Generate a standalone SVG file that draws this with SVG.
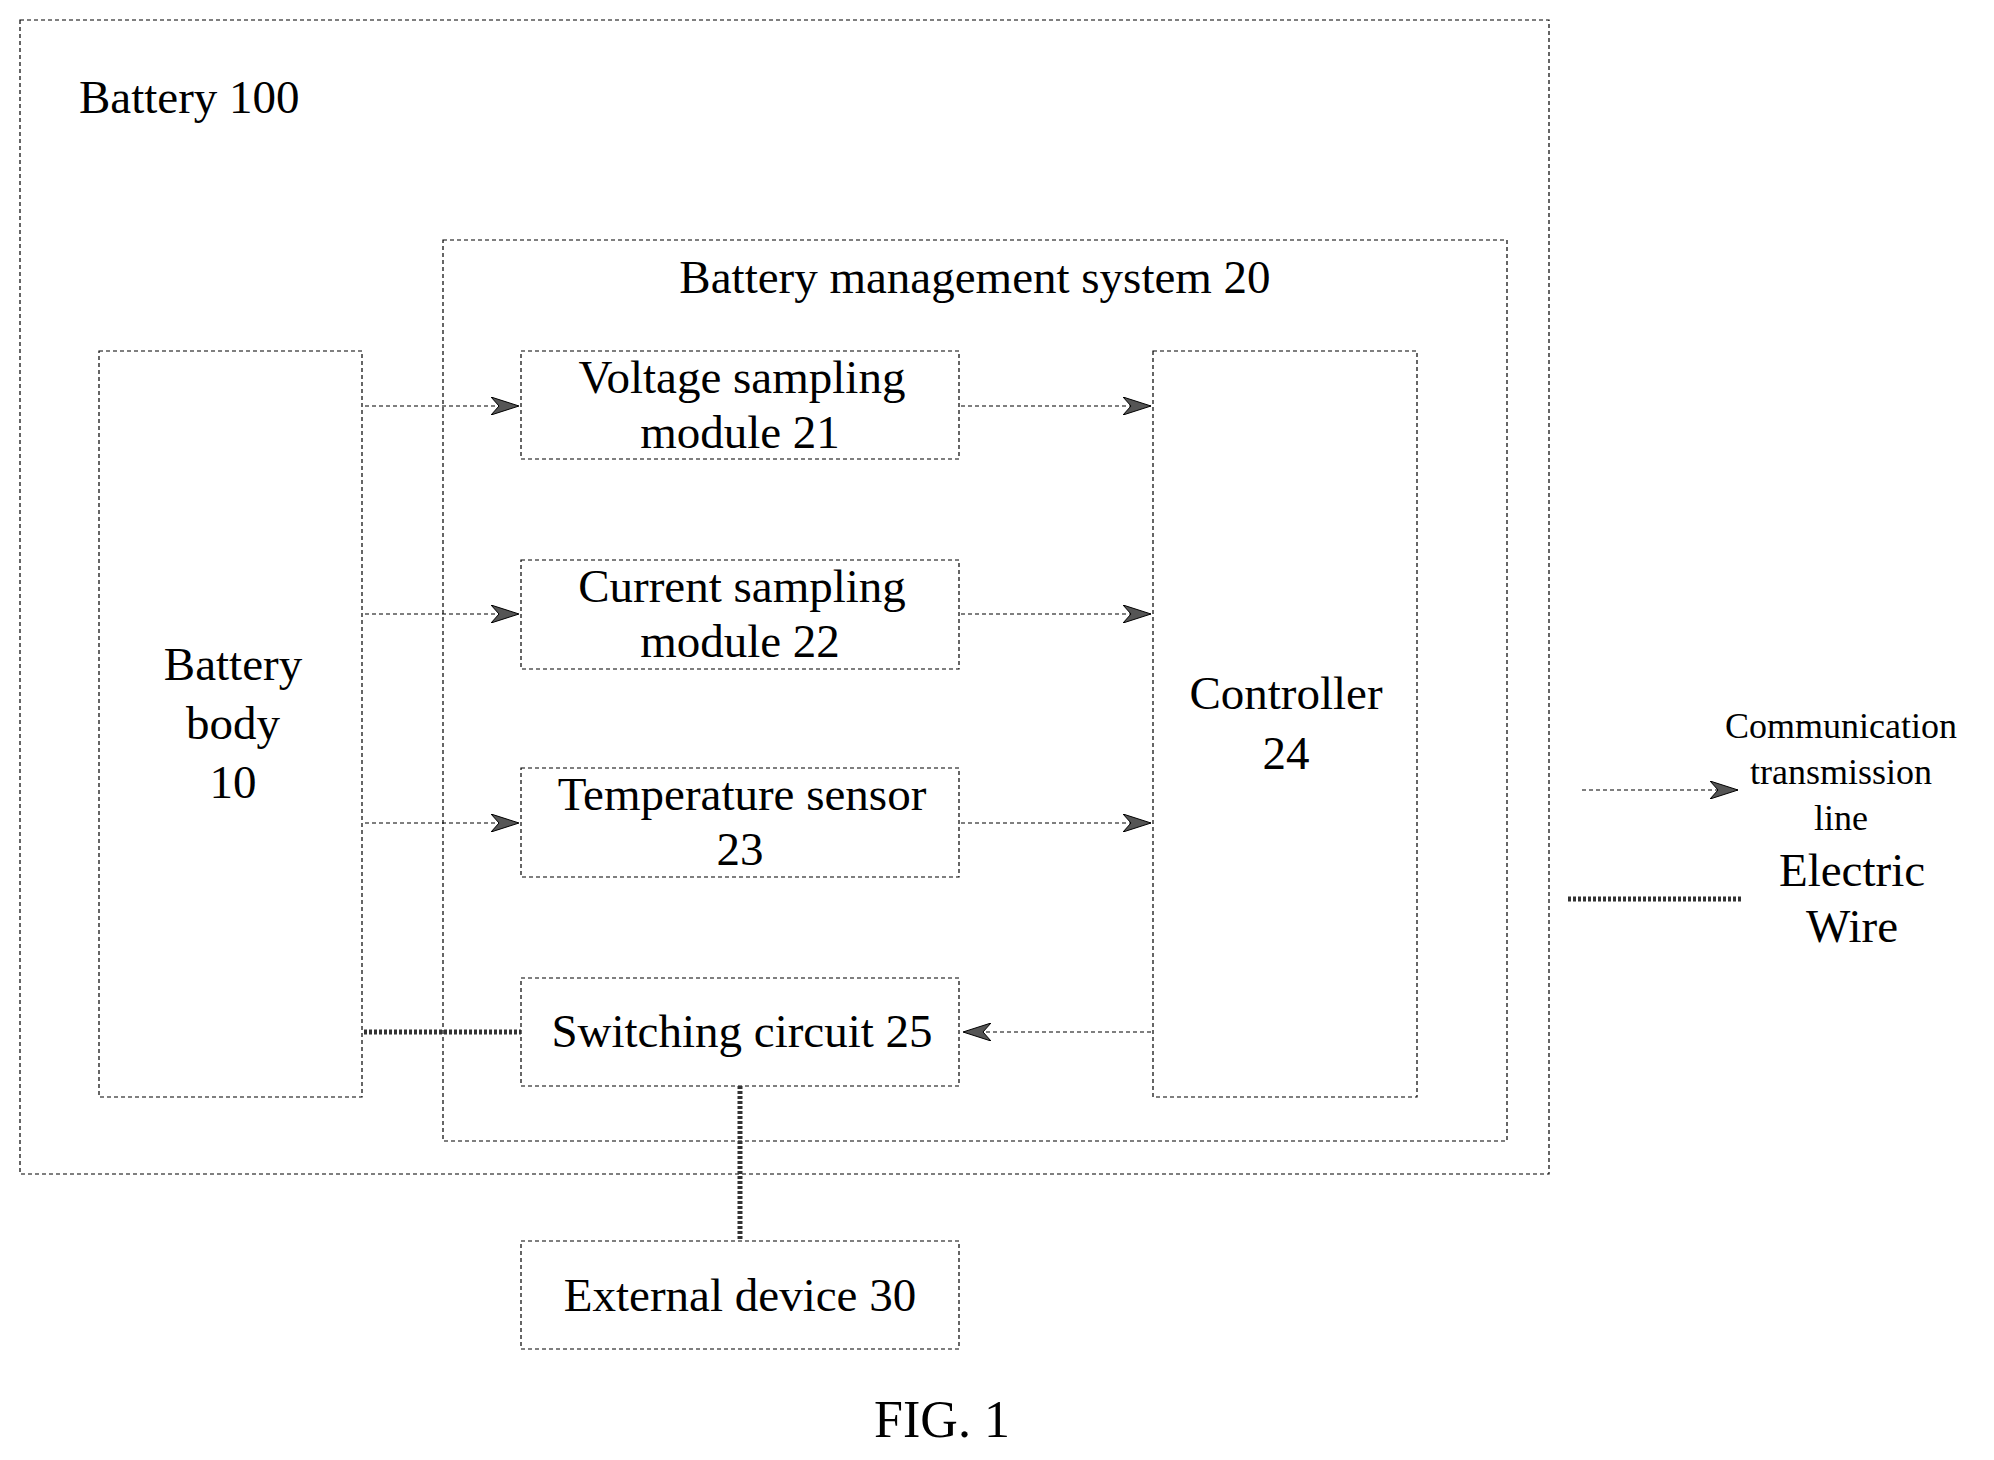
<svg xmlns="http://www.w3.org/2000/svg" width="1994" height="1460" viewBox="0 0 1994 1460">
<style>
.b{fill:none;stroke:#000;stroke-width:1.2;stroke-dasharray:4,3}
.t{font-family:"Liberation Serif",serif;font-size:47px;text-anchor:middle;fill:#000}
.c{fill:none;stroke:#000;stroke-width:1.1;stroke-dasharray:4,3}
.w{fill:none;stroke:#333;stroke-width:5;stroke-dasharray:3,2}
</style>
<defs>
<marker id="a" markerWidth="28" markerHeight="18" refX="28" refY="9" orient="auto" markerUnits="userSpaceOnUse">
<path d="M0,0 L28,9 L0,18 L8,9 Z" fill="#555" stroke="#000" stroke-width="1"/>
</marker>
</defs>
<rect width="1994" height="1460" fill="#fff"/>
<g id="battery100"><rect class="b" x="20" y="20" width="1529" height="1154"/><text class="t" x="79" y="113" style="text-anchor:start">Battery 100</text></g>
<g id="bms"><rect class="b" x="443" y="240" width="1064" height="901"/><text class="t" x="975" y="293">Battery management system 20</text></g>
<g id="body"><rect class="b" x="99" y="351" width="263" height="746"/><text class="t" x="233" y="680">Battery</text><text class="t" x="233" y="739">body</text><text class="t" x="233" y="798">10</text></g>
<g id="v21"><rect class="b" x="521" y="351" width="438" height="108"/><text class="t" x="742" y="393">Voltage sampling</text><text class="t" x="740" y="448">module 21</text></g>
<g id="c22"><rect class="b" x="521" y="560" width="438" height="109"/><text class="t" x="742" y="602">Current sampling</text><text class="t" x="740" y="657">module 22</text></g>
<g id="t23"><rect class="b" x="521" y="768" width="438" height="109"/><text class="t" x="742" y="810">Temperature sensor</text><text class="t" x="740" y="865">23</text></g>
<g id="s25"><rect class="b" x="521" y="978" width="438" height="108"/><text class="t" x="742" y="1047">Switching circuit 25</text></g>
<g id="ctrl"><rect class="b" x="1153" y="351" width="264" height="746"/><text class="t" x="1286" y="709">Controller</text><text class="t" x="1286" y="769">24</text></g>
<g id="ext"><rect class="b" x="521" y="1241" width="438" height="108"/><text class="t" x="740" y="1311">External device 30</text></g>
<g id="connectors">
<line class="c" x1="365" y1="406" x2="519" y2="406" marker-end="url(#a)"/>
<line class="c" x1="365" y1="614" x2="519" y2="614" marker-end="url(#a)"/>
<line class="c" x1="365" y1="823" x2="519" y2="823" marker-end="url(#a)"/>
<line class="c" x1="961" y1="406" x2="1151" y2="406" marker-end="url(#a)"/>
<line class="c" x1="961" y1="614" x2="1151" y2="614" marker-end="url(#a)"/>
<line class="c" x1="961" y1="823" x2="1151" y2="823" marker-end="url(#a)"/>
<line class="c" x1="1151" y1="1032" x2="963" y2="1032" marker-end="url(#a)"/>
<line class="w" x1="364" y1="1032" x2="521" y2="1032"/>
<line class="w" x1="740" y1="1086" x2="740" y2="1241"/>
</g>
<g id="legend">
<line class="c" x1="1582" y1="790" x2="1738" y2="790" marker-end="url(#a)"/>
<text class="t" style="font-size:36px" x="1841" y="738">Communication</text>
<text class="t" style="font-size:36px" x="1841" y="784">transmission</text>
<text class="t" style="font-size:36px" x="1841" y="830">line</text>
<line class="w" x1="1568" y1="899" x2="1742" y2="899"/>
<text class="t" x="1852" y="886">Electric</text>
<text class="t" x="1852" y="942">Wire</text>
</g>
<text class="t" style="font-size:52px" x="942" y="1437">FIG. 1</text>
</svg>
